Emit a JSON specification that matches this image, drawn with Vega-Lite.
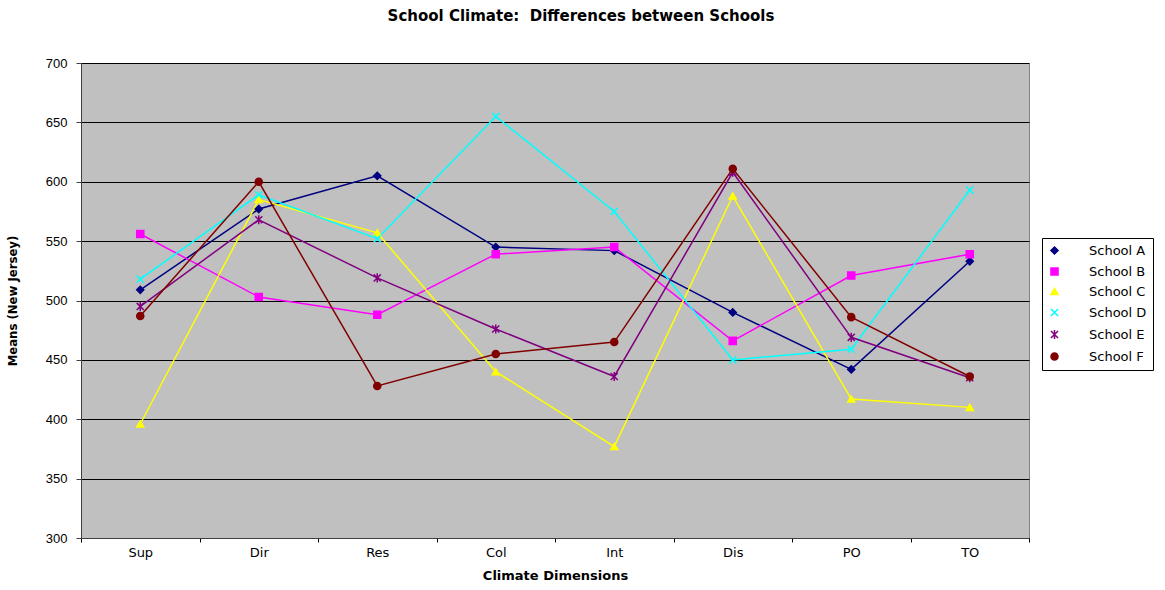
{
  "$schema": "https://vega.github.io/schema/vega-lite/v6.json",
  "autosize": "none",
  "width": 948,
  "height": 475,
  "padding": {"left": 81, "top": 63, "right": 136, "bottom": 52},
  "background": "white",
  "config": {
    "font": "DejaVu Sans",
    "view": {"fill": "#C0C0C0", "stroke": "#808080", "strokeWidth": 1},
    "axis": {"labelFont": "DejaVu Sans", "titleFont": "DejaVu Sans", "labelColor": "black", "titleColor": "black"},
    "legend": {
      "title": null,
      "orient": "none",
      "legendX": 961,
      "legendY": 175,
      "fillColor": "white",
      "strokeColor": "black",
      "padding": 6,
      "labelFontSize": 13,
      "labelFont": "DejaVu Sans",
      "labelColor": "black",
      "symbolSize": 50,
      "labelOffset": 28,
      "rowPadding": 6,
      "symbolStrokeWidth": 1.5
    }
  },
  "title": {
    "text": "School Climate:\u00a0 Differences between Schools",
    "fontSize": 15,
    "fontWeight": "bold",
    "font": "DejaVu Sans",
    "color": "black",
    "anchor": "middle",
    "dx": 26,
    "offset": 33
  },
  "data": {
    "values": [
      {"dim": "Sup", "school": "School A", "value": 509},
      {"dim": "Dir", "school": "School A", "value": 577},
      {"dim": "Res", "school": "School A", "value": 605},
      {"dim": "Col", "school": "School A", "value": 545},
      {"dim": "Int", "school": "School A", "value": 542},
      {"dim": "Dis", "school": "School A", "value": 490},
      {"dim": "PO", "school": "School A", "value": 442},
      {"dim": "TO", "school": "School A", "value": 533},
      {"dim": "Sup", "school": "School B", "value": 556},
      {"dim": "Dir", "school": "School B", "value": 503},
      {"dim": "Res", "school": "School B", "value": 488},
      {"dim": "Col", "school": "School B", "value": 539},
      {"dim": "Int", "school": "School B", "value": 545},
      {"dim": "Dis", "school": "School B", "value": 466},
      {"dim": "PO", "school": "School B", "value": 521},
      {"dim": "TO", "school": "School B", "value": 539},
      {"dim": "Sup", "school": "School C", "value": 396},
      {"dim": "Dir", "school": "School C", "value": 585},
      {"dim": "Res", "school": "School C", "value": 557},
      {"dim": "Col", "school": "School C", "value": 440},
      {"dim": "Int", "school": "School C", "value": 377},
      {"dim": "Dis", "school": "School C", "value": 588},
      {"dim": "PO", "school": "School C", "value": 417},
      {"dim": "TO", "school": "School C", "value": 410},
      {"dim": "Sup", "school": "School D", "value": 518},
      {"dim": "Dir", "school": "School D", "value": 589},
      {"dim": "Res", "school": "School D", "value": 552},
      {"dim": "Col", "school": "School D", "value": 655},
      {"dim": "Int", "school": "School D", "value": 575},
      {"dim": "Dis", "school": "School D", "value": 450},
      {"dim": "PO", "school": "School D", "value": 459},
      {"dim": "TO", "school": "School D", "value": 593},
      {"dim": "Sup", "school": "School E", "value": 495},
      {"dim": "Dir", "school": "School E", "value": 568},
      {"dim": "Res", "school": "School E", "value": 519},
      {"dim": "Col", "school": "School E", "value": 476},
      {"dim": "Int", "school": "School E", "value": 436},
      {"dim": "Dis", "school": "School E", "value": 608},
      {"dim": "PO", "school": "School E", "value": 469},
      {"dim": "TO", "school": "School E", "value": 435},
      {"dim": "Sup", "school": "School F", "value": 487},
      {"dim": "Dir", "school": "School F", "value": 600},
      {"dim": "Res", "school": "School F", "value": 428},
      {"dim": "Col", "school": "School F", "value": 455},
      {"dim": "Int", "school": "School F", "value": 465},
      {"dim": "Dis", "school": "School F", "value": 611},
      {"dim": "PO", "school": "School F", "value": 486},
      {"dim": "TO", "school": "School F", "value": 436}
    ]
  },
  "encoding": {
    "x": {
      "field": "dim",
      "type": "nominal",
      "sort": ["Sup", "Dir", "Res", "Col", "Int", "Dis", "PO", "TO"],
      "scale": {"paddingInner": 0, "paddingOuter": 0},
      "axis": {
        "orient": "bottom",
        "title": "Climate Dimensions",
        "titleFontSize": 13,
        "titleFontWeight": "bold",
        "titlePadding": 10,
        "labelFontSize": 13,
        "labelPadding": 4,
        "labelAngle": 0,
        "ticks": true,
        "tickBand": "extent",
        "tickSize": 4,
        "tickWidth": 1,
        "tickColor": "black",
        "domainColor": "#404040",
        "grid": false
      }
    },
    "y": {
      "field": "value",
      "type": "quantitative",
      "scale": {"domain": [300, 700], "nice": false, "zero": false},
      "axis": {
        "values": [300, 350, 400, 450, 500, 550, 600, 650, 700],
        "title": "Means (New Jersey)",
        "titleFont": "DejaVu Sans Condensed",
        "titleFontSize": 13,
        "titleFontWeight": "bold",
        "titlePadding": 26,
        "labelFont": "Liberation Sans",
        "labelFontSize": 13,
        "labelPadding": 9,
        "tickSize": 5,
        "tickColor": "#404040",
        "domainColor": "#404040",
        "grid": true,
        "gridColor": "black",
        "gridOpacity": 1,
        "gridWidth": 1
      }
    },
    "color": {
      "field": "school",
      "type": "nominal",
      "scale": {
        "domain": ["School A", "School B", "School C", "School D", "School E", "School F"],
        "range": ["#000080", "#FF00FF", "#FFFF00", "#00FFFF", "#800080", "#800000"]
      }
    }
  },
  "layer": [
    {
      "mark": {"type": "line", "strokeWidth": 1.5}
    },
    {
      "mark": {"type": "point", "filled": true, "strokeWidth": 1.5, "size": 50, "opacity": 1},
      "encoding": {
        "stroke": {
          "field": "school",
          "type": "nominal",
          "scale": {
            "domain": ["School A", "School B", "School C", "School D", "School E", "School F"],
            "range": ["#000080", "#FF00FF", "#FFFF00", "#00FFFF", "#800080", "#800000"]
          }
        },
        "shape": {
          "field": "school",
          "type": "nominal",
          "scale": {
            "domain": ["School A", "School B", "School C", "School D", "School E", "School F"],
            "range": ["diamond", "square", "triangle-up", "M-1,-1L1,1M-1,1L1,-1", "M-1,-1L1,1M-1,1L1,-1M0,-1.3L0,1.3", "circle"]
          }
        }
      }
    }
  ]
}
